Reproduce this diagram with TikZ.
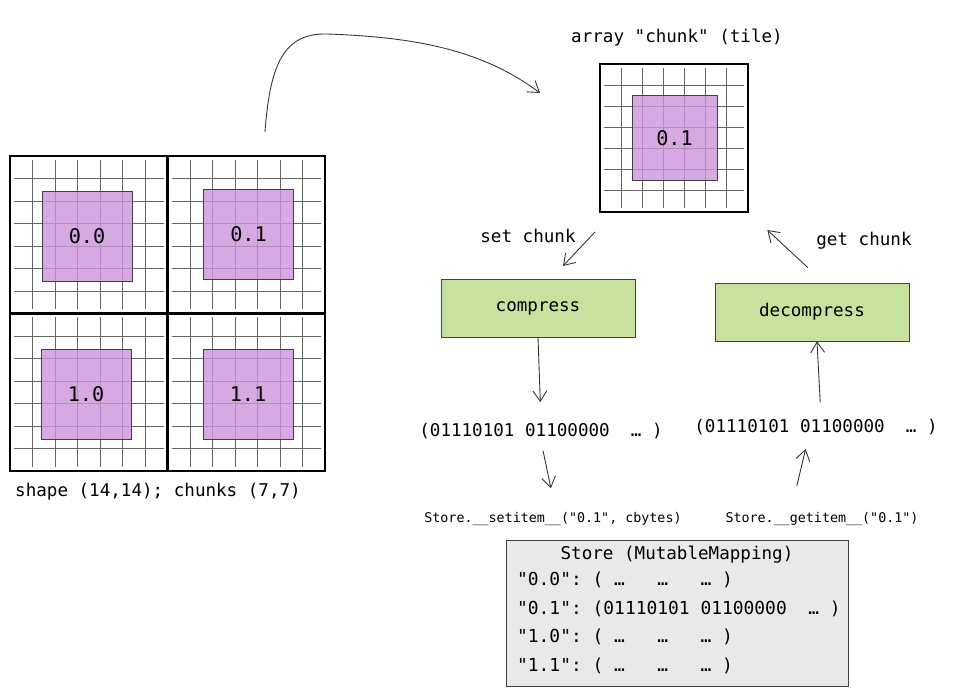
\documentclass[tikz,border=0pt]{standalone}
\usepackage{fontspec}
\setmonofont{DejaVu Sans Mono}
\usetikzlibrary{positioning,arrows.meta}

\definecolor{chunkpurple}{RGB}{204,148,220}
\definecolor{codecgreen}{RGB}{198,226,158}
\definecolor{storegray}{RGB}{233,233,233}

\begin{document}
\begin{tikzpicture}[x=0.02cm,y=-0.02cm,>={Straight Barb[length=6pt,width=8pt]},
  chunk node/.style={draw=black!75,fill=chunkpurple,fill opacity=0.8,text opacity=1,minimum size=1.8cm,inner sep=0pt,font=\ttfamily\fontsize{11.5}{13}\selectfont},
  grid line/.style={draw=black!60,line width=0.5pt},
  chunk border/.style={draw=black,line width=1.2pt},
  codec node/.style={draw=black!75,fill=codecgreen,minimum width=3.88cm,minimum height=1.16cm,font=\ttfamily\fontsize{10}{12}\selectfont},
  text node/.style={font=\ttfamily\fontsize{10}{12}\selectfont,inner sep=1pt},
  call node/.style={font=\ttfamily\fontsize{7.6}{9}\selectfont,inner sep=1pt},
  store line/.style={anchor=west,inner sep=1pt,font=\ttfamily\fontsize{10.2}{12}\selectfont},
  flow/.style={->,color=black!80,line width=0.5pt}]

  \useasboundingbox (0,0) rectangle (963,688);

  % the whole array, four chunks of 7x7
  \foreach \cx/\cy in {10/156,167.5/156,10/313.5,167.5/313.5}{
    \foreach \k in {1,...,6}{
      \draw[grid line] (\cx+22.5*\k,\cy+4) -- (\cx+22.5*\k,\cy+153.5);
      \draw[grid line] (\cx+4,\cy+22.5*\k) -- (\cx+153.5,\cy+22.5*\k);
    }
  }
  \node[chunk node] (c00) at (87,236) {0.0};
  \node[chunk node] (c01) at (248.5,234.5) {0.1};
  \node[chunk node] (c10) at (86,394.5) {1.0};
  \node[chunk node] (c11) at (248,394) {1.1};
  \foreach \cx/\cy in {10/156,167.5/156,10/313.5,167.5/313.5}
    \draw[chunk border] (\cx,\cy) rectangle +(157.5,157.5);
  \node[text node] (shape) at (158,492) {shape (14,14); chunks (7,7)};

  % one chunk
  \node[text node] (tiletitle) at (677,38) {array "chunk" (tile)};
  \foreach \k in {1,...,6}{
    \draw[grid line] (600+21.14*\k,68) -- (600+21.14*\k,208);
    \draw[grid line] (604,64+21.14*\k) -- (744,64+21.14*\k);
  }
  \node[chunk node,minimum size=1.7cm] (tile) at (674.5,138) {0.1};
  \node[chunk border,minimum size=2.96cm,inner sep=0pt] (tilebox) at (674,138) {};

  \coordinate (arraytop) at (265,132);
  \coordinate (tilein) at (540,93);
  \draw[flow] (arraytop) .. controls (270,62) and (285,33) .. (327,34)
    .. controls (410,37) and (480,48) .. (tilein);

  % codec
  \node[codec node] (compress) at (538,308) {compress};
  \node[codec node] (decompress) at (812,312) {decompress};
  \node[text node] (setlbl) at (528,236) {set chunk};
  \node[text node] (getlbl) at (864,241) {get chunk};

  \node[text node] (bytesL) at (541,431) {(01110101 01100000~ … )};
  \node[text node] (bytesR) at (816,427) {(01110101 01100000~ … )};
  \node[call node] (setitem) at (553,519) {Store.\_\_setitem\_\_("0.1", cbytes)};
  \node[call node] (getitem) at (822,519) {Store.\_\_getitem\_\_("0.1")};

  \path[flow]
    ([xshift=0.28cm]tilebox.south west) edge[shorten <=0.52cm,shorten >=0.35cm] ([xshift=0.26cm]compress.north)
    ([xshift=0.24cm]decompress.north) edge[shorten <=0.44cm,shorten >=0.5cm] (tilebox.south east)
    (compress.south) edge[shorten >=0.38cm] (bytesL.north)
    ([xshift=0.1cm]bytesR.north) edge[shorten <=0.3cm] ([xshift=0.1cm]decompress.south)
    (bytesL.south) edge[shorten <=0.2cm,shorten >=0.45cm] ([xshift=0.05cm]setitem.north)
    ([xshift=-0.62cm]getitem.north) edge[shorten <=0.5cm,shorten >=0.25cm] ([xshift=-0.15cm]bytesR.south);

  % the store
  \node[draw=black!75,fill=storegray,minimum width=6.84cm,minimum height=2.92cm,inner sep=0pt] (store) at (677,613) {};
  \node[text node] (storetitle) at (677,555) {Store (MutableMapping)};
  \node[store line] (s00) at (515,580) {"0.0": (~…~~~…~~~…~)};
  \node[store line] (s01) at (515,609) {"0.1": (01110101 01100000~ … )};
  \node[store line] (s10) at (515,637) {"1.0": (~…~~~…~~~…~)};
  \node[store line] (s11) at (515,666) {"1.1": (~…~~~…~~~…~)};
\end{tikzpicture}
\end{document}
